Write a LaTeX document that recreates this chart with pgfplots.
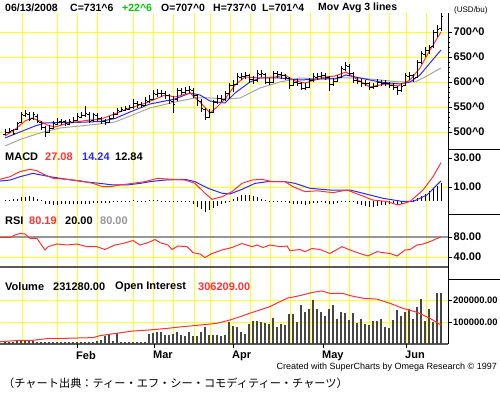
\documentclass[border=0pt]{standalone}
\usepackage{pgfplots}
\pgfplotsset{compat=1.18}
\usepackage{pgfplotstable}
\usepackage{fontspec}
\setmainfont{Liberation Sans}
\newfontfamily\cjk{Noto Sans CJK JP}

\definecolor{gridyellow}{RGB}{255,255,40}
\definecolor{mared}{RGB}{255,50,50}
\definecolor{mablue}{RGB}{40,40,255}
\definecolor{magray}{RGB}{165,165,165}
\definecolor{volgray}{RGB}{70,70,70}
\definecolor{hdrgreen}{RGB}{0,200,0}
\definecolor{lvlgray}{RGB}{150,150,150}
\definecolor{lvldark}{RGB}{90,90,90}

\pgfplotstableread{
x o h l c m v
5 496 506 494 500 1.0 8000
9 500 508 497 502 1.2 10000
13 503 505 494 498 1.5 8000
17 506 520 504 518 2.0 12000
21 520 540 518 536 2.8 15000
25 534 544 530 538 3.4 18000
29 536 540 522 526 3.6 15000
33 528 540 524 536 3.0 12000
37 532 536 518 522 2.0 10000
41 520 522 504 510 0.8 8000
45 510 512 490 500 -1.5 10000
49 500 514 498 508 -2.0 9000
53 508 522 506 518 -2.2 8000
57 516 528 514 520 -2.2 10000
61 522 526 514 520 -2.0 8000
65 522 524 512 518 -2.0 9000
69 516 526 514 521 -1.8 8000
73 520 530 518 524 -1.8 8000
77 524 538 522 532 -1.6 9000
81 530 540 528 534 -1.6 10000
85 534 552 530 538 -1.5 8000
89 536 540 518 522 -1.6 9000
93 524 538 520 535 -1.3 10000
97 534 538 522 528 -1.2 12000
101 528 530 516 521 -1.2 18000
105 522 526 514 520 -1.0 35000
109 520 532 518 527 -0.8 40000
113 528 540 526 536 -0.5 12000
117 536 548 534 544 0.3 52000
121 542 550 540 546 0.4 10000
125 544 552 542 548 0.5 8000
129 546 554 544 550 0.6 10000
133 550 566 546 558 0.7 8000
137 558 562 548 556 0.6 9000
141 556 560 548 554 0.5 8000
145 554 570 552 564 0.6 10000
149 562 574 558 566 0.8 45000
153 566 584 564 578 0.9 48000
157 576 586 570 578 0.8 53000
161 578 584 570 578 0.6 56000
165 578 582 566 574 0.4 42000
169 574 576 556 564 0.2 40000
173 562 572 538 556 0.3 47000
177 566 588 562 584 0.4 56000
181 584 588 574 580 0.2 40000
185 580 590 576 584 0.1 35000
189 584 592 578 586 -0.6 53000
193 584 588 568 574 -1.5 35000
197 574 576 552 564 -3.5 38000
201 562 566 540 548 -5.0 56000
205 546 548 524 530 -7.0 78000
209 530 546 528 540 -6.0 40000
213 540 564 538 560 -4.8 42000
217 560 574 556 568 -3.2 40000
221 568 574 560 566 -2.0 38000
225 566 582 562 578 -0.8 40000
229 578 598 566 594 0.6 100000
233 594 604 580 596 2.0 83000
237 596 618 594 612 3.2 78000
241 610 618 604 612 4.2 56000
245 612 620 606 614 4.6 47000
249 614 616 598 606 4.2 90000
253 606 612 596 604 3.5 105000
257 604 624 600 618 2.8 105000
261 616 624 610 618 1.8 98000
265 616 618 596 600 1.0 95000
269 600 608 594 600 0.4 90000
273 600 622 598 618 0.5 120000
277 618 622 608 616 0.5 75000
281 616 620 606 614 0.3 90000
285 614 616 604 610 -0.4 86000
289 608 610 586 594 -1.2 135000
293 594 606 592 600 -1.6 135000
297 600 606 592 598 -1.5 100000
301 598 600 584 588 -2.0 176000
305 588 598 584 590 -2.2 144000
309 590 608 588 604 -1.8 160000
313 604 618 600 612 -1.2 200000
317 610 618 604 612 -0.8 159000
321 612 620 606 614 -0.6 144000
325 614 618 604 610 -0.8 127000
329 610 612 582 596 -1.6 160000
333 596 608 592 602 -1.8 176000
337 602 614 600 610 -1.2 115000
341 610 632 608 628 -0.4 147000
345 626 640 622 634 0.3 141000
349 632 636 612 618 0.3 109000
353 618 620 598 604 -0.6 141000
357 604 610 596 602 -1.5 97000
361 602 606 590 598 -2.5 115000
365 598 604 592 598 -3.2 90000
369 598 600 584 590 -3.8 86000
373 590 598 586 592 -3.6 105000
377 592 606 590 600 -2.8 105000
381 600 604 592 598 -2.4 115000
385 598 604 592 598 -2.2 75000
389 598 600 588 594 -2.0 72000
393 594 598 584 590 -2.0 109000
397 590 592 574 584 -2.2 153000
401 584 598 580 592 -1.5 127000
405 594 618 592 614 -0.4 147000
409 612 620 604 614 0.5 159000
413 614 616 600 608 1.2 112000
417 610 644 608 640 2.5 170000
421 640 662 636 658 4.0 203000
425 656 670 650 664 5.5 105000
429 664 674 656 670 7.0 160000
433 672 704 668 700 9.0 98000
437 700 714 690 706 11.0 233000
441 707 737 701.4 731.6 12.84 231280
}\bars

\pgfplotsset{
 panel/.style={
  scale only axis, width=448pt, xmin=0, xmax=448,
  anchor=south west,
  axis x line*=bottom, axis y line*=right,
  x axis line style={draw=none},
  y axis line style={black, line width=0.9pt},
  xtick={22,57,77,97,133,153,173,194,210,230,250,270,290,310,329,349,369,389,406,426},
  xticklabels={}, xtick style={draw=none},
  xmajorgrids, ymajorgrids,
  grid style={gridyellow, line width=0.9pt},
  ytick style={black, line width=0.7pt},
  tick align=outside,
  major tick length=4pt, minor tick length=2pt,
  yticklabel style={font=\bfseries\fontsize{11}{12}\selectfont, inner sep=1.5pt},
  scaled y ticks=false,
 }
}

\begin{document}
\begin{tikzpicture}
\path[use as bounding box] (0,0) rectangle (500pt,393pt);
\clip (0,0) rectangle (500pt,393pt);

% ---------------- Price panel
\begin{axis}[panel, at={(0pt,247pt)}, height=133pt, ymin=472, ymax=738,
  ytick={500,550,600,650,700},
  yticklabels={500\textasciicircum 0,550\textasciicircum 0,600\textasciicircum 0,650\textasciicircum 0,700\textasciicircum 0},
  minor y tick num=4]
\addplot[magray, line width=1pt] coordinates {(5,472) (20,485) (40,498) (60,508) (90,514) (115,520) (150,548) (175,560) (195,568) (210,568) (225,566) (240,568) (260,588) (280,600) (300,608) (320,606) (340,608) (360,608) (380,604) (400,600) (415,600) (425,610) (441,628)};
\addplot[mablue, line width=1pt] coordinates {(5,488) (20,500) (35,512) (45,518) (60,519) (75,519) (100,521) (115,527) (130,540) (150,556) (175,566) (190,578) (200,574) (210,562) (225,558) (235,578) (250,600) (260,608) (280,608) (300,604) (320,606) (335,606) (346,614) (360,608) (380,600) (400,596) (410,600) (420,614) (430,638) (441,664)};
\addplot[mared, line width=1pt] coordinates {(5,492) (15,505) (25,522) (32,528) (40,522) (47,514) (55,510) (65,516) (75,520) (90,524) (100,525) (113,535) (130,548) (146,558) (165,574) (175,570) (190,578) (200,560) (210,538) (217,550) (225,566) (235,594) (245,610) (260,608) (275,610) (285,614) (295,602) (305,598) (315,604) (325,610) (335,612) (346,620) (358,604) (370,590) (385,596) (398,592) (410,604) (420,628) (430,664) (441,700)};
\addplot[draw=none, mark=none, error bars/.cd, y dir=both, y explicit, error mark=none,
   error bar style={black, line width=1pt}]
   table[x=x, y=c, y error plus expr=\thisrow{h}-\thisrow{c}, y error minus expr=\thisrow{c}-\thisrow{l}] {\bars};
\addplot[only marks, mark=-, mark size=1.1pt, mark options={black, line width=0.9pt}]
   table[x expr=\thisrow{x}-1.1, y=o] {\bars};
\addplot[only marks, mark=-, mark size=1.1pt, mark options={black, line width=0.9pt}]
   table[x expr=\thisrow{x}+1.1, y=c] {\bars};
\end{axis}

% ---------------- MACD panel
\begin{axis}[panel, at={(0pt,178pt)}, height=69pt, ymin=-9.31, ymax=38.28,
  ytick={10}, yticklabels={10.00},
  extra y ticks={30}, extra y tick labels={30.00}, extra y tick style={grid=none}]
\addplot[ycomb, black, line width=0.9pt] table[x=x, y=m] {\bars};
\addplot[mablue, line width=1pt] coordinates {(0,14.1) (10,14.8) (20,17.1) (33,19.4) (50,17.1) (67,15.3) (83,13.7) (100,12.5) (113,11.4) (127,11.4) (140,12.5) (150,13.7) (165,14.8) (185,15.3) (195,13.7) (208,9.1) (222,5.7) (230,5.2) (242,8.4) (255,12.5) (268,13.7) (285,13.7) (295,12.5) (310,9.1) (330,7.9) (350,7.9) (363,5.7) (383,2.2) (403,0) (413,0) (427,4.5) (441,14.2)};
\addplot[mared, line width=1pt] coordinates {(0,15.3) (10,17.1) (20,20.6) (30,22.2) (37,21.2) (43,19) (53,16) (67,15.3) (80,14.3) (93,12.5) (103,10.2) (110,10.2) (120,11.4) (133,12.5) (145,13.7) (158,16) (172,15.3) (185,14.8) (195,12.5) (205,5.7) (212,1.5) (222,3.3) (232,6.8) (242,12.5) (252,14.8) (262,15.3) (272,13.7) (285,13.7) (293,10.2) (305,6.8) (317,7.4) (333,6.1) (347,7.9) (360,4.5) (373,1) (387,0) (398,-2.4) (410,0) (423,7.9) (433,17.1) (441,26.8)};
\end{axis}

% ---------------- RSI panel
\begin{axis}[panel, at={(0pt,125pt)}, height=53pt, ymin=18, ymax=124,
  ytick={40}, yticklabels={40.00},
  extra y ticks={80}, extra y tick labels={80.00}, extra y tick style={grid=none}]
\addplot[lvlgray, line width=1.3pt] coordinates {(0,80) (448,80)};
\addplot[lvldark, line width=2pt] coordinates {(0,20) (448,20)};
\addplot[mared, line width=1pt] coordinates {(0,79.4) (10,79) (15,84) (20,87) (25,86) (30,77) (37,77) (45,54) (48,60.6) (57,66) (67,64) (77,66) (87,60.6) (97,60.6) (105,55) (115,64) (123,67) (133,73) (140,64) (148,68.7) (155,75) (160,68.7) (168,64) (172,55) (178,62) (187,60.7) (193,48.7) (200,46) (205,39) (212,47) (222,54) (232,59) (242,67) (252,60.7) (257,64) (263,59) (270,64) (280,60.7) (287,62) (290,52.7) (300,55) (305,50.7) (312,57) (320,55) (330,47) (342,60.7) (350,54) (360,47) (368,42) (377,50.7) (383,48.7) (390,47) (397,42) (405,54) (410,55) (417,64) (423,66) (430,70.7) (437,77) (441,80.19)};
\end{axis}

% ---------------- Volume panel
\begin{axis}[panel, at={(0pt,49pt)}, height=76pt, ymin=0, ymax=345454,
  ytick={100000,200000}, yticklabels={100000.00,200000.00},
  yticklabel style={font=\bfseries\fontsize{9.4}{11}\selectfont, inner sep=1pt},
  x axis line style={draw=lvldark, line width=1.6pt},
  extra x ticks={77,154,233,323,406}, extra x tick labels={Feb,Mar,Apr,May,Jun},
  extra x tick style={grid=none, xtick style={draw=black, line width=0.9pt},
     xticklabel style={anchor=north west, inner sep=0pt, yshift=-3pt, xshift=-1pt, font=\bfseries\fontsize{11}{12}\selectfont}}]
\addplot[ycomb, volgray, line width=1.2pt] table[x=x, y=v] {\bars};
\addplot[mared, line width=1pt] coordinates {(0,10000) (20,17000) (33,17000) (50,26000) (67,26000) (93,29000) (100,38000) (117,49000) (133,59000) (150,64000) (167,71000) (183,79000) (200,86000) (217,94000) (230,109000) (240,124000) (250,140000) (270,170000) (287,208000) (300,220000) (313,235000) (322,241000) (330,230000) (343,230000) (350,220000) (363,208000) (377,204000) (390,185000) (403,162000) (417,144000) (430,117000) (441,86000)};
\end{axis}

% right-column separators
\draw[black, line width=1pt] (448pt,243pt) -- (500pt,243pt);
\draw[black, line width=1pt] (448pt,178pt) -- (500pt,178pt);
\draw[black, line width=1pt] (448pt,113pt) -- (500pt,113pt);

% header
\begin{scope}[every node/.style={anchor=west, inner sep=0pt, font=\bfseries\fontsize{10.5}{12}\selectfont}]
\node at (5pt,385pt) {06/13/2008};
\node at (70pt,385pt) {C=731\textasciicircum 6};
\node[text=hdrgreen] at (122pt,385pt) {+22\textasciicircum 6};
\node at (161pt,385pt) {O=707\textasciicircum 0};
\node at (213pt,385pt) {H=737\textasciicircum 0};
\node at (262pt,385pt) {L=701\textasciicircum 4};
\node at (318pt,385pt) {Mov Avg 3 lines};
\end{scope}
\begin{scope}[every node/.style={anchor=west, inner sep=0pt, font=\bfseries\fontsize{11}{12}\selectfont}]
\node at (5pt,236pt) {MACD};
\node[text=mared] at (45pt,236pt) {27.08};
\node[text=mablue] at (82pt,236pt) {14.24};
\node at (115pt,236pt) {12.84};
\node at (5pt,172pt) {RSI};
\node[text=mared] at (29pt,172pt) {80.19};
\node at (65pt,172pt) {20.00};
\node[text=lvlgray] at (100pt,172pt) {80.00};
\node at (5pt,106pt) {Volume};
\node at (53pt,106pt) {231280.00};
\node at (115pt,106pt) {Open Interest};
\node[text=mared] at (198pt,106pt) {306209.00};
\end{scope}
\node[anchor=west, inner sep=0pt, font=\fontsize{8}{9}\selectfont] at (454pt,383pt) {(USD/bu)};
\node[anchor=east, inner sep=0pt, font=\fontsize{9}{10}\selectfont] at (497pt,26pt) {Created with SuperCharts by Omega Research © 1997};
\node[anchor=west, inner sep=0pt, font=\cjk\fontsize{11.2}{12}\selectfont] at (3pt,10pt) {（チャート出典：ティー・エフ・シー・コモディティー・チャーツ）};
\end{tikzpicture}
\end{document}
